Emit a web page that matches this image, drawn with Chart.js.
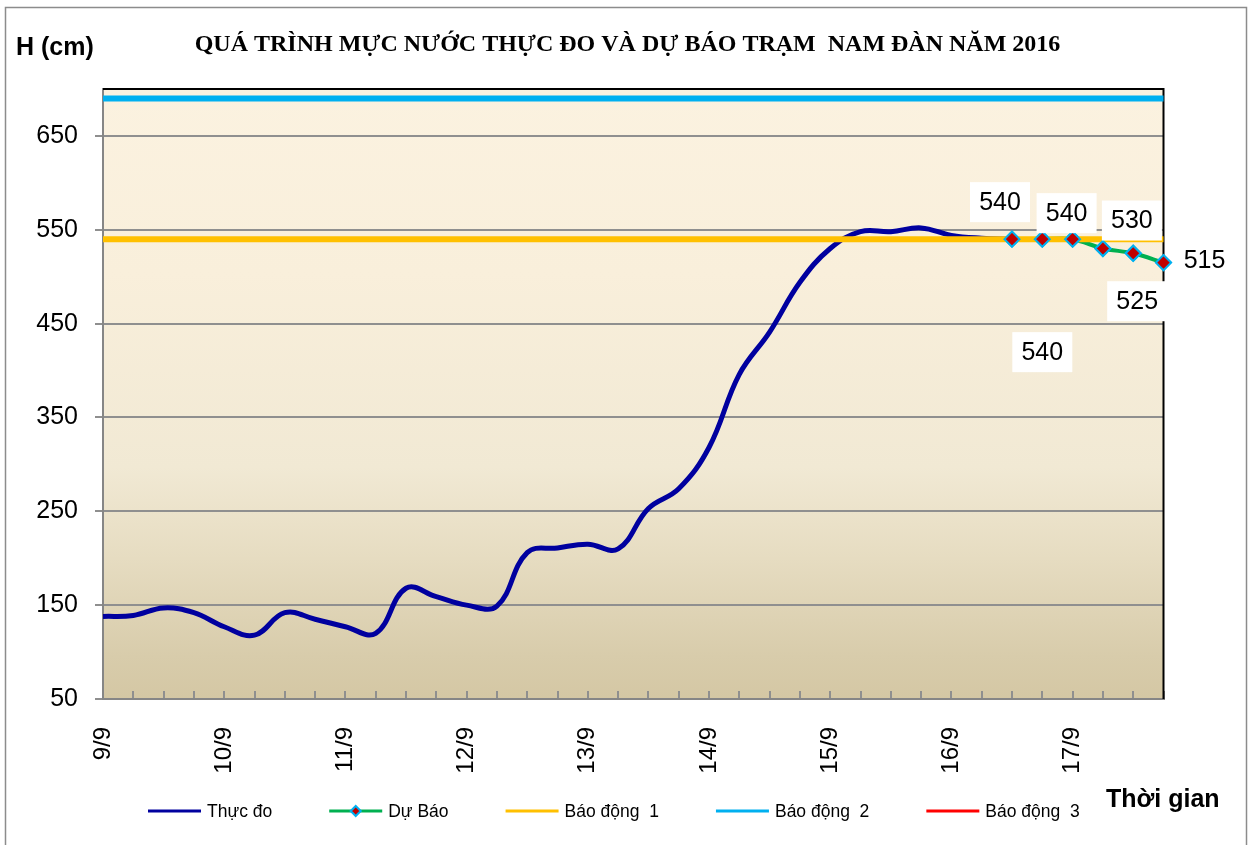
<!DOCTYPE html>
<html>
<head>
<meta charset="utf-8">
<title>Mực nước trạm Nam Đàn 2016</title>
<script src="https://cdn.jsdelivr.net/npm/chart.js@4.4.0/dist/chart.umd.min.js"></script>
<style>
    html, body { margin: 0; padding: 0; background: #fff; }
    #wrap { width: 1253px; height: 845px; }
</style>
</head>
<body>
<div id="wrap"><canvas id="levelChart" width="1253" height="845"></canvas></div>
<script>
'use strict';

// trục thời gian: mỗi ngày 4 kỳ, 6 giờ một lần
const days = ['9/9', '10/9', '11/9', '12/9', '13/9', '14/9', '15/9', '16/9', '17/9'];
const hours = ['01h', '07h', '13h', '19h'];
const categories = [];
days.forEach(d => hours.forEach(h => categories.push(d + ' ' + h)));

// mực nước thực đo (cm), từ 9/9 01h
const thucDo = [
    138, 139, 147, 142, 127, 118, 142, 135, 127, 120,
    168, 159, 150, 149, 206, 211, 215, 210, 253, 274,
    318, 396, 441, 494, 530, 548, 548, 552, 544, 541,
    540
];

// dự báo (cm), bắt đầu tại kỳ thứ 31
const duBaoStart = 30;
const duBao = [540, 540, 540, 530, 525, 515];

// mức báo động 1, 2, 3 (cm)
const baoDong = [540, 690, 790];

const yTicks = [50, 150, 250, 350, 450, 550, 650];
const yMin = 50;
const yMax = 700;

const TITLE = 'QUÁ TRÌNH MỰC NƯỚC THỰC ĐO VÀ DỰ BÁO TRẠM  NAM ĐÀN NĂM 2016';
const FONT = 'Liberation Sans, Arial, sans-serif';

function seriesPoints(values, start) {
    return values.map((v, i) => ({ x: categories[start + i], y: v }));
}

function alarmLine(level) {
    return [
        { x: categories[0], y: level },
        { x: categories[categories.length - 1], y: level }
    ];
}

const decor = {
    id: 'decor',
    beforeDraw(chart) {
        const ctx = chart.ctx;
        const a = chart.chartArea;
        ctx.save();
        ctx.strokeStyle = '#8c8c8c';
        ctx.lineWidth = 1.5;
        ctx.strokeRect(5.5, 7.5, 1241, 900);

        const g = ctx.createLinearGradient(0, a.top, 0, a.bottom);
        g.addColorStop(0, '#fbf2e0');
        g.addColorStop(0.3, '#f9efdb');
        g.addColorStop(0.62, '#f1e9d4');
        g.addColorStop(0.77, '#e6dcc1');
        g.addColorStop(0.93, '#d8ccab');
        g.addColorStop(1, '#d4c7a4');
        ctx.fillStyle = g;
        ctx.fillRect(a.left, a.top, a.right - a.left, a.bottom - a.top);

        ctx.fillStyle = '#000';
        ctx.textBaseline = 'alphabetic';
        ctx.textAlign = 'center';
        ctx.font = 'bold 24px Liberation Serif, Times New Roman, serif';
        ctx.fillText(TITLE, 627.5, 50.5);

        ctx.textAlign = 'left';
        ctx.font = 'bold 25px ' + FONT;
        ctx.fillText('H (cm)', 16, 55);
        ctx.fillText('Thời gian', 1106, 807);
        ctx.restore();
    },
    beforeDatasetsDraw(chart) {
        const ctx = chart.ctx;
        const a = chart.chartArea;
        ctx.save();
        ctx.strokeStyle = '#000';
        ctx.lineWidth = 2;
        ctx.beginPath();
        ctx.moveTo(a.left, a.top);
        ctx.lineTo(a.right, a.top);
        ctx.lineTo(a.right, a.bottom);
        ctx.stroke();
        ctx.restore();
    },
    afterDatasetsDraw(chart, args, opts) {
        const ctx = chart.ctx;
        const meta = chart.getDatasetMeta(1);
        const full = { left: 0, top: 0, right: chart.width, bottom: chart.height };
        // markers go above the alarm lines
        meta.data.forEach(p => p.draw(ctx, full));

        ctx.save();
        ctx.font = '25px ' + FONT;
        ctx.textAlign = 'center';
        ctx.textBaseline = 'middle';
        meta.data.forEach((p, i) => {
            const off = opts.offsets[i];
            const cx = p.x + off[0];
            const cy = p.y + off[1];
            ctx.fillStyle = '#fff';
            ctx.fillRect(cx - 30, cy - 20, 60, 40);
            ctx.fillStyle = '#000';
            ctx.fillText(String(duBao[i]), cx, cy + 1);
        });
        ctx.restore();
    },
    afterDraw(chart, args, opts) {
        // chú thích dưới biểu đồ
        const ctx = chart.ctx;
        const lg = opts.legend;
        let x = lg.x;
        ctx.save();
        ctx.font = '17.5px ' + FONT;
        ctx.textAlign = 'left';
        ctx.textBaseline = 'middle';
        chart.data.datasets.forEach((ds, i) => {
            ctx.fillStyle = ds.borderColor;
            ctx.fillRect(x, lg.y - 1.5, lg.line, 3);
            if (i === 1) {
                ctx.fillStyle = ds.pointBackgroundColor;
                ctx.strokeStyle = ds.pointBorderColor;
                ctx.lineWidth = 2;
                Chart.helpers.drawPoint(ctx, { pointStyle: 'rectRot', radius: 5, borderWidth: 2 },
                    x + lg.line / 2, lg.y);
            }
            ctx.fillStyle = '#000';
            const tx = x + lg.line + lg.gapText;
            ctx.fillText(ds.label, tx, lg.y + 1);
            x = tx + ctx.measureText(ds.label).width + lg.gapItem;
        });
        ctx.restore();
    }
};

const ctx = document.getElementById('levelChart');

new Chart(ctx, {
    type: 'line',
    data: {
        labels: categories,
        datasets: [{
            label: 'Thực đo',
            data: seriesPoints(thucDo, 0),
            borderColor: '#00009f',
            borderWidth: 5,
            pointRadius: 0,
            tension: 0.4,
            order: 5
        }, {
            label: 'Dự Báo',
            data: seriesPoints(duBao, duBaoStart),
            borderColor: '#00b050',
            borderWidth: 4,
            pointStyle: 'rectRot',
            pointRadius: 7.5,
            pointBackgroundColor: '#c00000',
            pointBorderColor: '#00b0f0',
            pointBorderWidth: 2,
            tension: 0.3,
            clip: false,
            order: 4
        }, {
            label: 'Báo động  1',
            data: alarmLine(baoDong[0]),
            borderColor: '#ffc000',
            borderWidth: 6,
            pointRadius: 0,
            order: 1
        }, {
            label: 'Báo động  2',
            data: alarmLine(baoDong[1]),
            borderColor: '#00b0f0',
            borderWidth: 6,
            pointRadius: 0,
            order: 2
        }, {
            label: 'Báo động  3',
            data: alarmLine(baoDong[2]),
            borderColor: '#ff0000',
            borderWidth: 6,
            pointRadius: 0,
            order: 3
        }]
    },
    options: {
        responsive: false,
        animation: false,
        events: [],
        layout: { padding: { left: 30, right: 89.5, top: 89, bottom: 66 } },
        plugins: {
            title: { display: false },
            legend: { display: false },
            tooltip: { enabled: false },
            decor: {
                // label centre relative to each forecast point
                offsets: [[-12, -37], [0, 113], [-6, -26], [29, -28], [4, 48], [41, -3]],
                legend: { x: 148, y: 811, line: 53, gapText: 6, gapItem: 57 }
            }
        },
        scales: {
            x: {
                type: 'category',
                grid: { drawOnChartArea: false, tickLength: -8, color: '#8f8f8f', lineWidth: 2 },
                border: { color: '#868686', width: 2 },
                ticks: {
                    autoSkip: false,
                    minRotation: 90,
                    maxRotation: 90,
                    padding: 36,
                    color: '#000',
                    font: { family: FONT, size: 24 },
                    callback: function(value, index) {
                        return index % hours.length === 0 ? days[index / hours.length] : '';
                    }
                },
                afterFit: function(scale) { scale.height = 80; }
            },
            y: {
                min: yMin,
                max: yMax,
                grid: { color: '#8f8f8f', lineWidth: 2, tickLength: 8 },
                border: { color: '#868686', width: 2 },
                ticks: {
                    padding: 17,
                    color: '#000',
                    font: { family: FONT, size: 25 }
                },
                afterBuildTicks: function(scale) {
                    scale.ticks = yTicks.map(v => ({ value: v }));
                },
                afterFit: function(scale) { scale.width = 73; }
            }
        }
    },
    plugins: [decor]
});
</script>
</body>
</html>
